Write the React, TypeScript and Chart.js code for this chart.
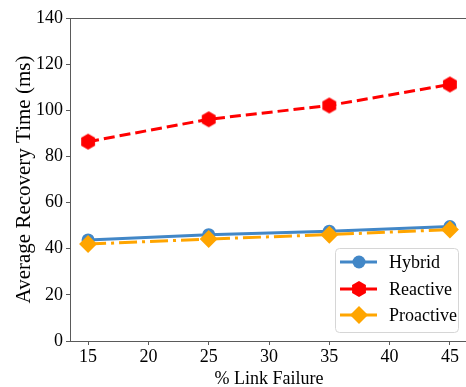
import React, { useEffect, useRef } from "react";
import { Chart, registerables } from "chart.js";

Chart.register(...registerables);

const failurePct = [15, 25, 35, 45];
const hybrid = [43.8, 46.1, 47.6, 49.6];
const reactive = [86.4, 96.1, 102.1, 111.2];
const proactive = [42.0, 44.2, 46.1, 48.3];
const xTicks = [15, 20, 25, 30, 35, 40, 45];
const yTicks = [0, 20, 40, 60, 80, 100, 120, 140];
const seriesNames = ["Hybrid", "Reactive", "Proactive"];

const BLUE = "#4287c7";
const RED = "#ff0000";
const ORANGE = "#ffa500";
const SPINE = "#5a5a5a";
const FONT = "'Liberation Serif', serif";

function makeHexagon(r: number, color: string) {
  const c = document.createElement("canvas");
  const size = Math.ceil(r * 2 + 2);
  c.width = size;
  c.height = size;
  const ctx = c.getContext("2d")!;
  ctx.fillStyle = color;
  ctx.beginPath();
  for (let i = 0; i < 6; i++) {
    const a = -Math.PI / 2 + (i * Math.PI) / 3;
    const x = size / 2 + r * Math.cos(a);
    const y = size / 2 + r * Math.sin(a);
    if (i === 0) ctx.moveTo(x, y);
    else ctx.lineTo(x, y);
  }
  ctx.closePath();
  ctx.fill();
  return c;
}

export default function App() {
  const ref = useRef<HTMLCanvasElement | null>(null);
  useEffect(() => {
    if (!ref.current) return;
    const hex = makeHexagon(8, RED);
    const styles = [
      { color: BLUE, dash: [] as number[], point: "circle" as any, radius: 6.5 },
      { color: RED, dash: [11, 5], point: hex as any, radius: 8 },
      { color: ORANGE, dash: [18, 5, 3, 5], point: "rectRot" as any, radius: 9 },
    ];

    const legendPlugin = {
      id: "innerLegend",
      afterDraw(c: any) {
        const { ctx, chartArea } = c;
        const right = chartArea.right - 10;
        const bottom = chartArea.bottom - 9;
        const w = 123;
        const h = 84;
        const left = right - w;
        const top = bottom - h;
        ctx.save();
        ctx.fillStyle = "rgba(255,255,255,0.85)";
        ctx.strokeStyle = "#d6d6d6";
        ctx.lineWidth = 1;
        ctx.beginPath();
        (ctx as any).roundRect(left + 0.5, top + 0.5, w, h, 4);
        ctx.fill();
        ctx.stroke();
        const rows = [top + 14, top + 41, top + 67];
        seriesNames.forEach((name, i) => {
          const s = styles[i];
          const y = rows[i];
          ctx.strokeStyle = s.color;
          ctx.lineWidth = 3;
          ctx.setLineDash([]);
          ctx.beginPath();
          ctx.moveTo(left + 5, y);
          ctx.lineTo(left + 42, y);
          ctx.stroke();
          ctx.fillStyle = s.color;
          ctx.beginPath();
          const cx = left + 24;
          if (i === 0) {
            ctx.arc(cx, y, 6.5, 0, Math.PI * 2);
            ctx.fill();
          } else if (i === 1) {
            ctx.drawImage(hex, cx - hex.width / 2, y - hex.height / 2);
          } else {
            ctx.moveTo(cx, y - 9);
            ctx.lineTo(cx + 9, y);
            ctx.lineTo(cx, y + 9);
            ctx.lineTo(cx - 9, y);
            ctx.closePath();
            ctx.fill();
          }
          ctx.fillStyle = "#000";
          ctx.font = `18px ${FONT}`;
          ctx.textBaseline = "middle";
          ctx.textAlign = "left";
          ctx.fillText(name, left + 54, y + 1);
        });
        ctx.restore();
      },
    };

    const data = [hybrid, reactive, proactive];
    const chart = new Chart(ref.current, {
      type: "line",
      data: {
        datasets: seriesNames.map((name, i) => ({
          label: name,
          data: failurePct.map((x, j) => ({ x, y: data[i][j] })),
          borderColor: styles[i].color,
          backgroundColor: styles[i].color,
          borderWidth: 3,
          borderDash: styles[i].dash,
          pointStyle: styles[i].point,
          pointRadius: styles[i].radius,
          pointHoverRadius: styles[i].radius,
          pointBorderWidth: 0,
          pointBackgroundColor: styles[i].color,
          tension: 0,
          order: 3 - i,
        })),
      },
      options: {
        responsive: false,
        animation: false,
        events: [],
        layout: { padding: { left: 0, right: 12, top: 0, bottom: 0 } },
        plugins: { legend: { display: false }, tooltip: { enabled: false } },
        scales: {
          x: {
            type: "linear",
            min: 13.5,
            max: 46.5,
            afterBuildTicks: (s: any) => {
              s.ticks = xTicks.map((v) => ({ value: v }));
            },
            afterFit: (s: any) => {
              s.height = 46;
            },
            grid: {
              drawOnChartArea: false,
              drawTicks: true,
              tickLength: 4,
              color: SPINE,
            },
            border: { display: true, color: SPINE, width: 1 },
            ticks: {
              color: "#000",
              font: { family: FONT, size: 18 },
              padding: 1,
              maxRotation: 0,
            },
            title: {
              display: true,
              text: "% Link Failure",
              color: "#000",
              font: { family: FONT, size: 18, lineHeight: 1 },
              padding: { top: 0, bottom: -1 },
            },
          },
          x2: {
            type: "linear",
            position: "top",
            min: 13.5,
            max: 46.5,
            afterFit: (s: any) => {
              s.height = 18;
            },
            grid: { display: false, drawTicks: false },
            border: { display: true, color: SPINE, width: 1 },
            ticks: { display: false },
          },
          y: {
            type: "linear",
            min: 0,
            max: 140,
            afterBuildTicks: (s: any) => {
              s.ticks = yTicks.map((v) => ({ value: v }));
            },
            afterFit: (s: any) => {
              s.width = 70;
            },
            grid: {
              drawOnChartArea: false,
              drawTicks: true,
              tickLength: 4,
              color: SPINE,
            },
            border: { display: true, color: SPINE, width: 1 },
            ticks: {
              color: "#000",
              font: { family: FONT, size: 18 },
              padding: 3,
            },
            title: {
              display: true,
              text: "Average Recovery Time (ms)",
              color: "#000",
              font: { family: FONT, size: 21, lineHeight: 1.2 },
              padding: { top: 12, bottom: 0 },
            },
          },
        },
      },
      plugins: [legendPlugin],
    });
    return () => chart.destroy();
  }, []);

  return (
    <div
      style={{
        position: "absolute",
        left: 0,
        top: 0,
        width: 466,
        height: 387,
        overflow: "hidden",
        background: "#fff",
      }}
    >
      <canvas ref={ref} width={480} height={387} style={{ display: "block" }} />
    </div>
  );
}
